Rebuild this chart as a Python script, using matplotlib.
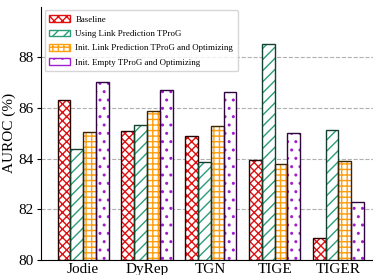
import numpy as np
import matplotlib.pyplot as plt

plt.rcParams['font.family'] = ['Liberation Serif', 'DejaVu Serif']
plt.rcParams['hatch.linewidth'] = 1.0

models = ['Jodie', 'DyRep', 'TGN', 'TIGE', 'TIGER']
labels = ['Baseline', 'Using Link Prediction TProG',
          'Init. Link Prediction TProG and Optimizing',
          'Init. Empty TProG and Optimizing']
baseline = [86.3, 85.1, 84.9, 83.95, 80.85]
using_lp = [84.4, 85.35, 83.85, 88.55, 85.15]
init_lp = [85.05, 85.9, 85.3, 83.8, 83.9]
init_empty = [87.05, 86.7, 86.65, 85.0, 82.3]

series = [baseline, using_lp, init_lp, init_empty]
hatch_colors = ['#e01010', '#2a9d7a', '#ff9f10', '#a020d0']
edge_colors = ['#2a0505', '#15402e', '#3a2500', '#30063f']
hatches = ['xxxx', '///', '+++', '..']

fig = plt.figure(figsize=(3.73, 2.75), dpi=100)
ax = fig.add_axes([0.11, 0.055, 0.895, 0.92])

x = np.arange(len(models))
w = 0.2
handles = []
for i, vals in enumerate(series):
    pos = x + (i - 1.5) * w
    ax.bar(pos, np.array(vals) - 80, w, bottom=80, color='white',
           edgecolor=hatch_colors[i], hatch=hatches[i], linewidth=0, zorder=3)
    ax.bar(pos, np.array(vals) - 80, w, bottom=80, fill=False,
           edgecolor=edge_colors[i], linewidth=1.0, zorder=4)
    h = plt.Rectangle((0, 0), 1, 1, facecolor='white', edgecolor=hatch_colors[i],
                      hatch=hatches[i], linewidth=1.0)
    handles.append(h)

ax.set_ylim(80, 90)
ax.set_xlim(-0.66, 4.57)
ax.set_yticks([80, 82, 84, 86, 88])
ax.set_xticks(x)
ax.set_xticklabels(models, fontsize=11)
ax.tick_params(axis='y', labelsize=11, length=3, pad=2)
ax.tick_params(axis='x', length=0, pad=2)
ax.set_ylabel('AUROC (%)', fontsize=11, labelpad=2)
ax.yaxis.grid(True, linestyle='--', color='#b0b0b0', linewidth=0.8, zorder=0)
ax.spines['top'].set_visible(False)
ax.spines['right'].set_visible(False)

ax.legend(handles, labels, loc='upper left', fontsize=6.4, frameon=True,
          handlelength=2.3, handleheight=0.8, borderpad=0.55, labelspacing=0.65,
          handletextpad=0.6, borderaxespad=0.4, bbox_to_anchor=(0.0, 1.0))

fig.savefig('out.png', dpi=100)
